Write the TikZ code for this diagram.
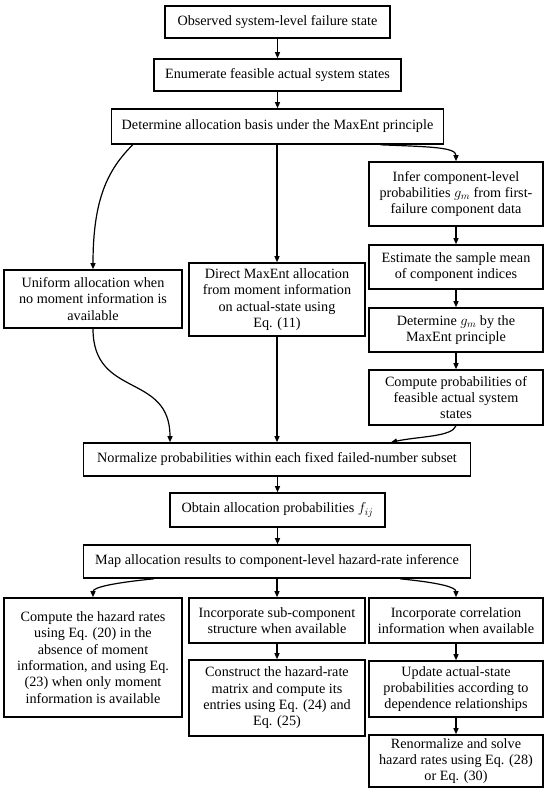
\documentclass[tikz,border=0pt]{standalone}
\usepackage{fontspec}
\setmainfont{Liberation Serif}
\usetikzlibrary{arrows.meta}
\begin{document}
\begin{tikzpicture}[x=1pt,y=-1pt,
  box/.style={draw, line width=1.6pt, inner sep=0pt, align=center, font=\fontsize{14.2}{16.3}\selectfont},
  arr/.style={line width=1.2pt, -{Triangle[length=6pt,width=5pt]}}]
\useasboundingbox[fill=white] (0,0) rectangle (550,791);
% top chain
\node[box, minimum width=225pt, minimum height=32pt] (b1) at (277.5,22) {Observed system-level failure state};
\node[box, minimum width=247pt, minimum height=32pt] (b2) at (277.5,75) {Enumerate feasible actual system states};
\node[box, minimum width=332pt, minimum height=35pt] (b3) at (277.5,126.5) {Determine allocation basis under the MaxEnt principle};
% three branches
\node[box, minimum width=177.5pt, minimum height=58pt] (l1) at (93,299) {Uniform allocation when\\no moment information is\\available};
\node[box, minimum width=175.5pt, minimum height=73pt] (m1) at (277,299.5) {Direct MaxEnt allocation\\from moment information\\on actual-state using\\Eq. (11)};
\node[box, minimum width=174pt, minimum height=64pt] (r1) at (456,194) {Infer component-level\\probabilities $g_m$ from first-\\failure component data};
\node[box, minimum width=174pt, minimum height=44pt] (r2) at (456,267) {Estimate the sample mean\\of component indices};
\node[box, minimum width=174pt, minimum height=44pt] (r3) at (456,330) {Determine $g_m$ by the\\MaxEnt principle};
\node[box, minimum width=174pt, minimum height=55pt] (r4) at (456,397.5) {Compute probabilities of\\feasible actual system\\states};
% middle chain
\node[box, minimum width=387pt, minimum height=33pt] (n) at (277,459.5) {Normalize probabilities within each fixed failed-number subset};
\node[box, minimum width=215pt, minimum height=34pt] (o) at (277.5,510) {Obtain allocation probabilities $f_{ij}$};
\node[box, minimum width=387pt, minimum height=33pt] (mp) at (277,561.5) {Map allocation results to component-level hazard-rate inference};
% bottom
\node[box, minimum width=177.5pt, minimum height=119pt] (c1) at (93,657.5) {Compute the hazard rates\\using Eq. (20) in the\\absence of moment\\information, and using Eq.\\(23) when only moment\\information is available};
\node[box, minimum width=175.5pt, minimum height=45pt] (c2) at (277,620.5) {Incorporate sub-component\\structure when available};
\node[box, minimum width=175.5pt, minimum height=76pt] (c3) at (277,698) {Construct the hazard-rate\\matrix and compute its\\entries using Eq. (24) and\\Eq. (25)};
\node[box, minimum width=174pt, minimum height=45pt] (c4) at (456,620.5) {Incorporate correlation\\information when available};
\node[box, minimum width=174pt, minimum height=56pt] (c5) at (456,689) {Update actual-state\\probabilities according to\\dependence relationships};
\node[box, minimum width=174pt, minimum height=52pt] (c6) at (456,761) {Renormalize and solve\\hazard rates using Eq. (28)\\or Eq. (30)};
% straight connectors
\draw[arr] (b1) -- (b2);
\draw[arr] (b2) -- (b3);
\draw[arr] (b3.south -| m1.north) -- (m1.north);
\draw[arr] (r1) -- (r2);
\draw[arr] (r2) -- (r3);
\draw[arr] (r3) -- (r4);
\draw[arr] (m1.south) -- (m1.south |- n.north);
\draw[arr] (n.south -| o.north) -- (o.north);
\draw[arr] (o.south) -- (o.south |- mp.north);
\draw[arr] (mp.south -| c2.north) -- (c2.north);
\draw[arr] (c2) -- (c3);
\draw[arr] (c4) -- (c5);
\draw[arr] (c5) -- (c6);
% curved connectors
\draw[arr] ([xshift=22pt]b3.south west) .. controls +(-25,25) and +(0,-70) .. (l1.north);
\draw[arr] ([xshift=-64pt]b3.south east) .. controls +(50,2) and +(0,-14) .. (r1.north);
\draw[arr] (l1.south) .. controls +(0,70) and +(0,-70) .. ([xshift=-107pt]n.north);
\draw[arr] (r4.south) .. controls +(-4,11) and +(29,-6) .. ([xshift=114pt]n.north);
\draw[arr] ([xshift=-123pt]mp.south) .. controls +(-40,4) and +(0,-10) .. (c1.north);
\draw[arr] ([xshift=123pt]mp.south) .. controls +(40,4) and +(0,-10) .. (c4.north);
\end{tikzpicture}
\end{document}
